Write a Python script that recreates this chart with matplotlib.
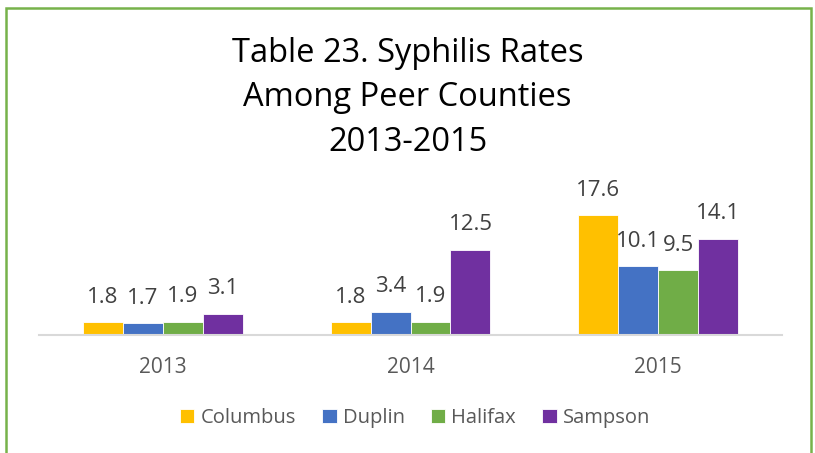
import numpy as np
import matplotlib
matplotlib.use("Agg")
from matplotlib import pyplot as plt
from matplotlib.patches import Rectangle

years = ["2013", "2014", "2015"]
counties = ["Columbus", "Duplin", "Halifax", "Sampson"]
columbus = [1.8, 1.8, 17.6]
duplin = [1.7, 3.4, 10.1]
halifax = [1.9, 1.9, 9.5]
sampson = [3.1, 12.5, 14.1]
colors = ["#FFC000", "#4472C4", "#70AD47", "#7030A0"]

plt.rcParams['font.family'] = ['Open Sans', 'DejaVu Sans']

W, H = 815, 453
fig = plt.figure(figsize=(W / 100, H / 100), dpi=100)

# plot area in pixels: x 39..782, baseline at y=334.7, 6.8 px per unit
ymax = 20
left, right, base = 39, 782, 334.7
top = base - ymax * 6.8
ax = fig.add_axes([left / W, (H - base) / H, (right - left) / W, (base - top) / H])

series = [columbus, duplin, halifax, sampson]
x = np.arange(len(years))
bw = 0.1615
for i, (vals, name) in enumerate(zip(series, counties)):
    pos = x + (i - 1.5) * bw
    bars = ax.bar(pos, vals, bw, color=colors[i], edgecolor="white", linewidth=0.6, label=name)
    for b, v in zip(bars, vals):
        ax.annotate(f"{v}", (b.get_x() + b.get_width() / 2, v), xytext=(0, 18),
                    textcoords="offset points", ha="center", va="center",
                    fontsize=16, color="#404040")

ax.set_xlim(-0.5, 2.5)
ax.set_ylim(0, ymax)
ax.set_yticks([])
ax.set_xticks(x)
ax.set_xticklabels(years, fontsize=15, color="#595959")
ax.tick_params(axis="x", length=0, pad=16)
for s in ["top", "right", "left"]:
    ax.spines[s].set_visible(False)
ax.spines["bottom"].set_color("#D9D9D9")
ax.spines["bottom"].set_linewidth(1.5)

fig.text(0.5, (H - 98) / H, "Table 23. Syphilis Rates\nAmong Peer Counties\n2013-2015",
         ha="center", va="center", fontsize=23.5, color="black", linespacing=1.47)

ax.legend(loc="center", bbox_to_anchor=(415 / W, (H - 418) / H), bbox_transform=fig.transFigure,
          ncol=4, frameon=False, fontsize=14.5, labelcolor="#595959",
          handlelength=0.72, handleheight=0.72, handletextpad=0.3, columnspacing=1.3)

fig.patches.append(Rectangle((6 / W, -0.05), (811 - 6) / W, (H - 8) / H + 0.05,
                             transform=fig.transFigure, fill=False,
                             edgecolor="#77B24A", linewidth=1.8))

fig.savefig("out.png", dpi=100)
